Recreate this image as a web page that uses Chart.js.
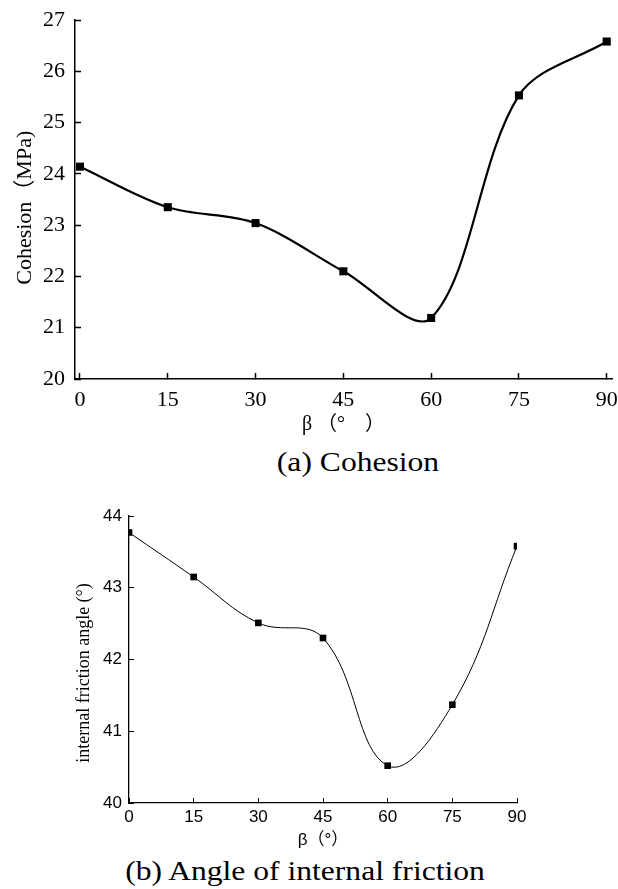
<!DOCTYPE html>
<html lang="en">
<head>
  <meta charset="UTF-8">
  <title>Cohesion and internal friction angle vs β</title>
  <script src="https://cdn.jsdelivr.net/npm/chart.js"></script>
  <style>
    body {
      margin: 0;
      width: 618px;
      height: 889px;
      position: relative;
      background: #fff;
      overflow: hidden;
    }
    .box { position: absolute; left: 0; width: 618px; }
    .caption {
      position: absolute;
      font-family: 'Liberation Serif', serif;
      font-size: 27px;
      line-height: 27px;
      color: #000;
      white-space: nowrap;
      transform: translateX(-50%) scaleX(1.17);
    }
  </style>
</head>
<body>
  <div class="box" style="top:0; height:440px"><canvas id="cohesionChart"></canvas></div>
  <div class="caption" style="top:449px; left:358px">(a) Cohesion</div>
  <div class="box" style="top:480px; height:371px"><canvas id="frictionChart"></canvas></div>
  <div class="caption" style="top:858px; left:305px">(b) Angle of internal friction</div>

  <script>
    const betaAngles       = [0, 15, 30, 45, 60, 75, 90];
    const cohesionMPa      = [24.14, 23.35, 23.04, 22.10, 21.19, 25.53, 26.58];
    const frictionAngleDeg = [43.77, 43.15, 42.51, 42.30, 40.52, 41.37, 43.58];
    const betaTicks        = [0, 15, 30, 45, 60, 75, 90];

    const serif = "'Liberation Serif', 'Noto Sans CJK SC', serif";
    const sans  = "'Liberation Sans', 'Noto Sans CJK SC', sans-serif";

    function points(ys) {
      return betaAngles.map((x, i) => ({ x: x, y: ys[i] }));
    }

    function fixTicks(scale) {
      scale.ticks = betaTicks.map(v => ({ value: v }));
    }

    // panel (a)
    new Chart(document.getElementById('cohesionChart'), {
      type: 'line',
      data: {
        datasets: [{
          data: points(cohesionMPa),
          borderColor: '#000',
          borderWidth: 2.2,
          tension: 0.33,
          pointStyle: 'rect',
          pointRadius: 5.7,
          pointHoverRadius: 5.7,
          pointBorderWidth: 0,
          pointBackgroundColor: '#000'
        }]
      },
      options: {
        responsive: true,
        maintainAspectRatio: false,
        animation: false,
        layout: { padding: { top: 20, right: 6, left: 0, bottom: 0 } },
        plugins: { legend: { display: false }, tooltip: { enabled: false } },
        scales: {
          x: {
            type: 'linear', min: -0.85, max: 90.9,
            afterBuildTicks: fixTicks,
            afterFit: s => { s.height = 61; s.paddingLeft = 0; s.paddingRight = 0; },
            grid: { drawOnChartArea: false, tickLength: -6, tickWidth: 1.5, tickColor: '#000' },
            border: { color: '#000', width: 1.5 },
            ticks: { color: '#000', padding: 14, maxRotation: 0, autoSkip: false,
                     font: { family: serif, size: 22 } },
            title: { display: true, text: 'β （°　）', color: '#000',
                     font: { family: serif, size: 20 }, padding: { top: 0, bottom: 3 } }
          },
          y: {
            min: 20, max: 27,
            afterFit: s => { s.width = 75; s.paddingTop = 0; s.paddingBottom = 0; },
            grid: { drawOnChartArea: false, tickLength: -6, tickWidth: 1.5, tickColor: '#000' },
            border: { color: '#000', width: 1.5 },
            ticks: { stepSize: 1, color: '#000', padding: 16,
                     font: { family: serif, size: 22 } },
            title: { display: true, text: 'Cohesion（MPa)   ', color: '#000',
                     font: { family: serif, size: 22 }, padding: { top: 12, bottom: 0 } }
          }
        }
      }
    });

    // panel (b)
    new Chart(document.getElementById('frictionChart'), {
      type: 'line',
      data: {
        datasets: [{
          data: points(frictionAngleDeg),
          borderColor: '#000',
          borderWidth: 1,
          tension: 0.4,
          clip: 0,
          pointStyle: 'rect',
          pointRadius: 4.7,
          pointHoverRadius: 4.7,
          pointBorderWidth: 0,
          pointBackgroundColor: '#000'
        }]
      },
      options: {
        responsive: true,
        maintainAspectRatio: false,
        animation: false,
        layout: { padding: { top: 36, right: 101, left: 0, bottom: 0 } },
        plugins: { legend: { display: false }, tooltip: { enabled: false } },
        scales: {
          x: {
            type: 'linear', min: 0, max: 90,
            afterBuildTicks: fixTicks,
            afterFit: s => { s.height = 48; s.paddingLeft = 0; s.paddingRight = 0; },
            grid: { drawOnChartArea: false, tickLength: -5, tickWidth: 1, tickColor: '#000' },
            border: { color: '#000', width: 1.3 },
            ticks: { color: '#000', padding: 9, maxRotation: 0, autoSkip: false,
                     font: { family: sans, size: 17 } },
            title: { display: true, text: 'β（°）', color: '#000',
                     font: { family: sans, size: 17 }, padding: { top: 0, bottom: 0 } }
          },
          y: {
            min: 40, max: 44,
            afterFit: s => { s.width = 129; s.paddingTop = 0; s.paddingBottom = 0; },
            grid: { drawOnChartArea: false, tickLength: -5, tickWidth: 1, tickColor: '#000' },
            border: { color: '#000', width: 1.3 },
            ticks: { stepSize: 1, color: '#000', padding: 12,
                     font: { family: sans, size: 17 } },
            title: { display: true, text: 'internal friction angle (°)      ', color: '#000',
                     font: { family: serif, size: 18 }, padding: { top: 73, bottom: 0 } }
          }
        }
      }
    });
  </script>
</body>
</html>
